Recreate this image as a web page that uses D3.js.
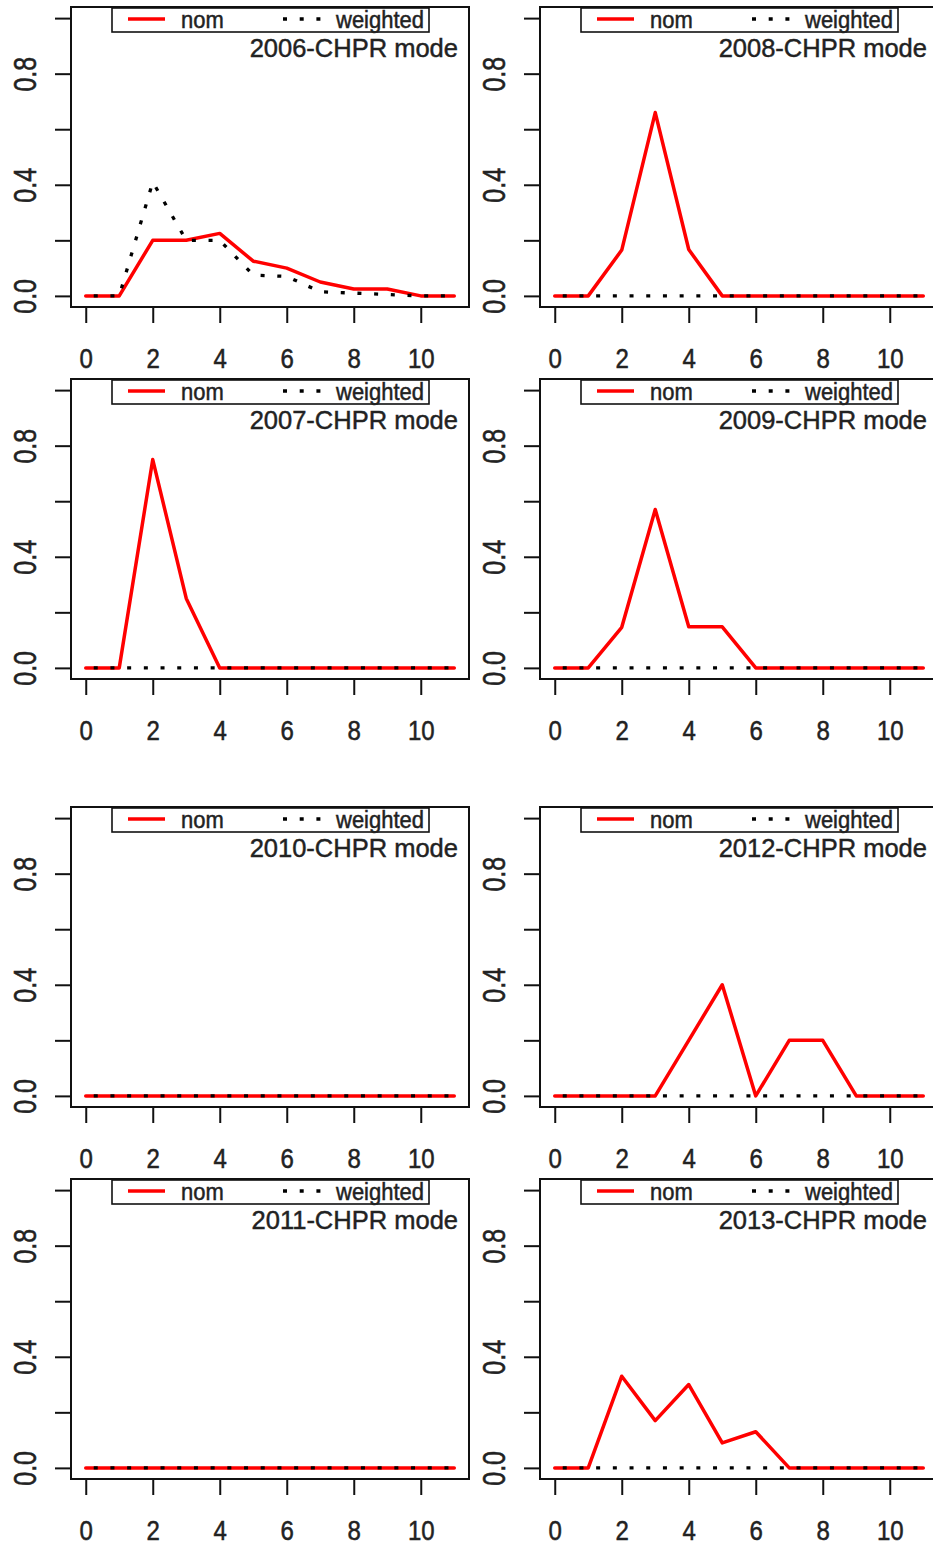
<!DOCTYPE html>
<html>
<head>
<meta charset="utf-8">
<script src="https://cdn.jsdelivr.net/npm/d3@7/dist/d3.min.js"></script>
<style>
  body { margin: 0; background: #fff; }
  text { font-family: "Liberation Sans", Arial, sans-serif; fill: #222; stroke: #222; stroke-width: 0.45px; }
</style>
</head>
<body>
<svg id="chart" width="933" height="1547"></svg>
<script>
// x positions shared by every panel
const xValues = [0, 1, 2, 3, 4, 5, 6, 7, 8, 9, 10, 11];
const xTicks = [0, 2, 4, 6, 8, 10];
const yTicks = [0, 0.2, 0.4, 0.6, 0.8, 1.0];
const yLabelled = [0, 0.4, 0.8];
const legendLabels = ["nom", "weighted"];

// panel order: left column then right column, row by row
const panelYears = ["2006", "2008", "2007", "2009", "2010", "2012", "2011", "2013"];

const nom2006 = [0, 0, 0.2, 0.2, 0.225, 0.125, 0.1, 0.05, 0.025, 0.025, 0, 0];
const wtd2006 = [0, 0, 0.41, 0.2, 0.2, 0.075, 0.07, 0.015, 0.01, 0.005, 0, 0];
const nom2007 = [0, 0, 0.75, 0.25, 0, 0, 0, 0, 0, 0, 0, 0];
const wtd2007 = [0, 0, 0, 0, 0, 0, 0, 0, 0, 0, 0, 0];
const nom2008 = [0, 0, 0.165, 0.66, 0.167, 0, 0, 0, 0, 0, 0, 0];
const wtd2008 = [0, 0, 0, 0, 0, 0, 0, 0, 0, 0, 0, 0];
const nom2009 = [0, 0, 0.146, 0.57, 0.148, 0.148, 0, 0, 0, 0, 0, 0];
const wtd2009 = [0, 0, 0, 0, 0, 0, 0, 0, 0, 0, 0, 0];
const nom2010 = [0, 0, 0, 0, 0, 0, 0, 0, 0, 0, 0, 0];
const wtd2010 = [0, 0, 0, 0, 0, 0, 0, 0, 0, 0, 0, 0];
const nom2011 = [0, 0, 0, 0, 0, 0, 0, 0, 0, 0, 0, 0];
const wtd2011 = [0, 0, 0, 0, 0, 0, 0, 0, 0, 0, 0, 0];
const nom2012 = [0, 0, 0, 0, 0.2, 0.4, 0, 0.2, 0.2, 0, 0, 0];
const wtd2012 = [0, 0, 0, 0, 0, 0, 0, 0, 0, 0, 0, 0];
const nom2013 = [0, 0, 0.33, 0.17, 0.3, 0.09, 0.13, 0, 0, 0, 0, 0];
const wtd2013 = [0, 0, 0, 0, 0, 0, 0, 0, 0, 0, 0, 0];

const nomByYear = { "2006": nom2006, "2007": nom2007, "2008": nom2008, "2009": nom2009,
  "2010": nom2010, "2011": nom2011, "2012": nom2012, "2013": nom2013 };
const wtdByYear = { "2006": wtd2006, "2007": wtd2007, "2008": wtd2008, "2009": wtd2009,
  "2010": wtd2010, "2011": wtd2011, "2012": wtd2012, "2013": wtd2013 };

// layout
const colLeft = [71, 540];
const rowTop = [7, 379, 807, 1179];
const boxW = 398;
const boxH = 300;
const tickLen = 16;
const nomColor = "#ff0000";
const dotDash = "4,12.7";

const svg = d3.select("#chart");
svg.append("rect").attr("width", 933).attr("height", 1547).attr("fill", "#fff");

const x = d3.scaleLinear().domain([-0.44, 11.44]).range([0, boxW]);
const y = d3.scaleLinear().domain([-0.04, 1.04]).range([boxH, 0]);

const line = d3.line()
  .x((d) => x(d[0]))
  .y((d) => y(d[1]));

const drawPanel = (year, i) => {
  const col = i % 2;
  const row = Math.floor(i / 2);
  const g = svg.append("g")
    .attr("transform", `translate(${colLeft[col]},${rowTop[row]})`);

  // y axis
  const yAxis = g.append("g")
    .call(d3.axisLeft(y)
      .tickValues(yTicks)
      .tickSize(tickLen)
      .tickSizeOuter(0)
      .tickFormat((d) => (yLabelled.some((v) => Math.abs(v - d) < 1e-9) ? d3.format(".1f")(d) : "")));
  yAxis.select(".domain").remove();
  yAxis.selectAll("line").attr("stroke", "#111").attr("stroke-width", 2);
  yAxis.selectAll("text")
    .attr("x", 0).attr("y", 0).attr("dy", "0.36em")
    .attr("text-anchor", "middle")
    .attr("transform", "translate(-46.5,0) rotate(-90) scale(1,1.25)")
    .style("font-size", "25px")
    .style("font-family", "'Liberation Sans', Arial, sans-serif")
    .attr("fill", "#222");

  // x axis
  const xAxis = g.append("g")
    .attr("transform", `translate(0,${boxH})`)
    .call(d3.axisBottom(x)
      .tickValues(xTicks)
      .tickSize(tickLen)
      .tickSizeOuter(0)
      .tickFormat(d3.format("d")));
  xAxis.select(".domain").remove();
  xAxis.selectAll("line").attr("stroke", "#111").attr("stroke-width", 2);
  xAxis.selectAll("text")
    .attr("y", 0).attr("dy", "0.36em")
    .attr("transform", "translate(0,51) scale(1,1.16)")
    .style("font-size", "24px")
    .style("font-family", "'Liberation Sans', Arial, sans-serif")
    .attr("fill", "#222");

  // series
  const nomPts = xValues.map((v, k) => [v, nomByYear[year][k]]);
  const wtdPts = xValues.map((v, k) => [v, wtdByYear[year][k]]);

  g.append("path")
    .datum(nomPts)
    .attr("d", line)
    .attr("fill", "none")
    .attr("stroke", nomColor)
    .attr("stroke-width", 3.5)
    .attr("stroke-linejoin", "round")
    .attr("stroke-linecap", "round");

  g.append("path")
    .datum(wtdPts)
    .attr("d", line)
    .attr("fill", "none")
    .attr("stroke", "#000")
    .attr("stroke-width", 3.3)
    .attr("stroke-dasharray", dotDash)
    .attr("stroke-dashoffset", -8);

  // legend
  const leg = g.append("g").attr("transform", "translate(41,1)");
  leg.append("rect")
    .attr("width", 317).attr("height", 24)
    .attr("fill", "#fff").attr("stroke", "#111").attr("stroke-width", 1.6);
  leg.append("line")
    .attr("x1", 16).attr("x2", 53).attr("y1", 11).attr("y2", 11)
    .attr("stroke", nomColor).attr("stroke-width", 3.5);
  leg.append("line")
    .attr("x1", 171).attr("x2", 212).attr("y1", 11).attr("y2", 11)
    .attr("stroke", "#000").attr("stroke-width", 3.3)
    .attr("stroke-dasharray", dotDash);
  leg.selectAll("text.leg")
    .data(legendLabels)
    .enter()
    .append("text")
    .attr("class", "leg")
    .attr("transform", (d, k) => `translate(${k === 0 ? 69 : 224},20) scale(1,1.12)`)
    .style("font-size", "22px")
    .text((d) => d);

  // panel title
  g.append("text")
    .attr("x", 387)
    .attr("y", 50)
    .attr("text-anchor", "end")
    .style("font-size", "25.5px")
    .text(`${year}-CHPR mode`);

  // plot box
  g.append("rect")
    .attr("width", boxW).attr("height", boxH)
    .attr("fill", "none").attr("stroke", "#111").attr("stroke-width", 2);
};

panelYears.forEach(drawPanel);
</script>
</body>
</html>
